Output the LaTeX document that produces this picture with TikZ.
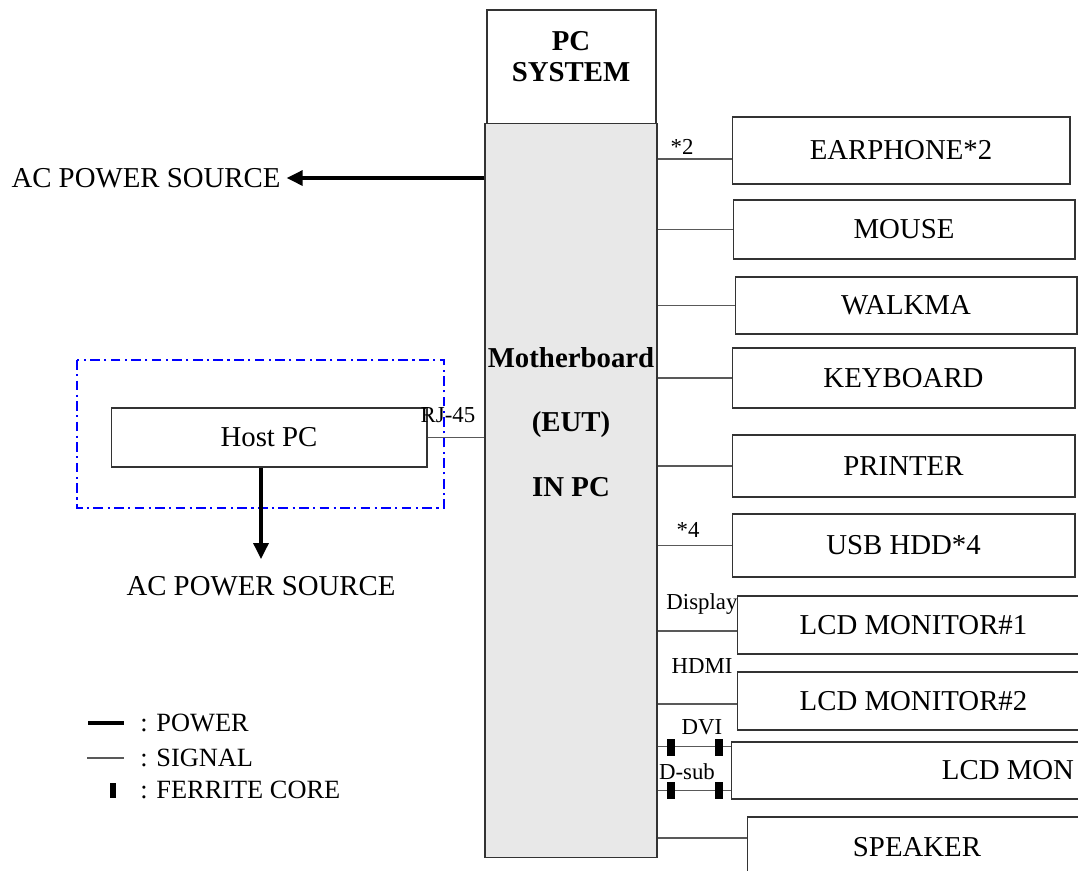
\documentclass[tikz,border=0pt]{standalone}
\usepackage{fontspec}
\setmainfont{Liberation Serif}
\usetikzlibrary{arrows.meta}

\begin{document}
\begin{tikzpicture}[x=0.02cm,y=-0.02cm,
    devbox/.style={draw=black!80,line width=0.6pt,inner sep=0pt,font=\fontsize{16.4}{19.7}\selectfont},
    sig/.style={draw=black!65,line width=0.6pt},
    power/.style={line width=1.9pt,-{Triangle[length=0.32cm,width=0.3cm]}},
    tag/.style={inner sep=0pt,font=\fontsize{13}{15.6}\selectfont},
    legtext/.style={anchor=west,inner sep=0pt,font=\fontsize{15}{18}\selectfont},
    ferrite/.style={fill=black,minimum width=0.16cm,minimum height=0.34cm,inner sep=0pt}]
    \useasboundingbox (0,0) rectangle (1078,870);
    \clip (0,0) rectangle (1078,870);
    % PC system and motherboard
    \node[devbox,minimum width=3.38cm,minimum height=2.3cm] (pcsys) at (571.5,67.5) {};
    \node[font=\bfseries\fontsize{16.4}{17.6}\selectfont,align=center,inner sep=0pt] (pctxt) at (571,57) {PC\\SYSTEM};
    \node[devbox,fill=black!9,minimum width=3.44cm,minimum height=14.7cm] (mb) at (571,490.5) {};
    \node[font=\bfseries\fontsize{16.4}{36.9}\selectfont,align=center,inner sep=0pt] (mbtxt) at (571,422) {Motherboard\\(EUT)\\IN PC};
    % peripherals
    \node[devbox,minimum width=6.76cm,minimum height=1.34cm] (earphone) at (901,150.5) {EARPHONE*2};
    \node[devbox,minimum width=6.84cm,minimum height=1.18cm] (mouse) at (904,229.5) {MOUSE};
    \node[devbox,minimum width=6.84cm,minimum height=1.14cm] (walkma) at (906,305.5) {WALKMA};
    \node[devbox,minimum width=6.86cm,minimum height=1.2cm] (keyboard) at (903.5,378) {KEYBOARD};
    \node[devbox,minimum width=6.86cm,minimum height=1.24cm] (printer) at (903.5,466) {PRINTER};
    \node[devbox,minimum width=6.86cm,minimum height=1.26cm] (usbhdd) at (903.5,545.5) {USB HDD*4};
    \node[devbox,minimum width=7.06cm,minimum height=1.16cm] (lcd1) at (913.5,625) {LCD MONITOR\#1};
    \node[devbox,minimum width=7.06cm,minimum height=1.16cm] (lcd2) at (913.5,701) {LCD MONITOR\#2};
    \node[devbox,minimum width=11.08cm,minimum height=1.14cm] (lcd3) at (1008,770.5) {LCD MON};
    \node[devbox,minimum width=6.8cm,minimum height=1.2cm] (speaker) at (917,847) {SPEAKER};
    % host side
    \draw[blue,line width=1pt,dash pattern=on 5.5pt off 2.5pt on 1.2pt off 2.5pt] (77,360) rectangle (444,508);
    \node[devbox,minimum width=6.32cm,minimum height=1.18cm] (host) at (269,437.5) {Host PC};
    \node[font=\fontsize{16.4}{19.7}\selectfont] (acleft) at (146,178) {AC POWER SOURCE};
    \node[font=\fontsize{16.4}{19.7}\selectfont] (acbot) at (261,586) {AC POWER SOURCE};
    \draw[power] (acleft.east -| mb.west) -- (acleft.east);
    \draw[power,shorten >=0.22cm] (host.south -| acbot.north) -- (acbot.north);
    % signal cables
    \draw[sig] (host.east) -- (host.east -| mb.west);
    \draw[sig] ([yshift=-0.17cm]earphone.west) -- ([yshift=-0.17cm]earphone.west -| mb.east);
    \draw[sig] (mouse.west) -- (mouse.west -| mb.east);
    \draw[sig] (walkma.west) -- (walkma.west -| mb.east);
    \draw[sig] (keyboard.west) -- (keyboard.west -| mb.east);
    \draw[sig] (printer.west) -- (printer.west -| mb.east);
    \draw[sig] (usbhdd.west) -- (usbhdd.west -| mb.east);
    \draw[sig] ([yshift=-0.12cm]lcd1.west) -- ([yshift=-0.12cm]lcd1.west -| mb.east);
    \draw[sig] ([yshift=-0.06cm]lcd2.west) -- ([yshift=-0.06cm]lcd2.west -| mb.east);
    \draw[sig] ([yshift=-0.1cm]lcd3.north west) -- ([yshift=-0.1cm]lcd3.north west -| mb.east);
    \draw[sig] ([yshift=0.18cm]lcd3.south west) -- ([yshift=0.18cm]lcd3.south west -| mb.east);
    \draw[sig] ([yshift=0.18cm]speaker.west) -- ([yshift=0.18cm]speaker.west -| mb.east);
    \node[ferrite] (dvicoreA) at (671,747) {};
    \node[ferrite] (dvicoreB) at (719,747) {};
    \node[ferrite] (dsubcoreA) at (671,790) {};
    \node[ferrite] (dsubcoreB) at (719,790) {};
    % cable labels
    \node[tag] (rjtag) at (448,415) {RJ-45};
    \node[tag] (eartag) at (682,147) {*2};
    \node[tag] (usbtag) at (688,530) {*4};
    \node[tag] (dptag) at (702,604) {Display};
    \node[tag] (hdmitag) at (702,666) {HDMI};
    \node[tag] (dvitag) at (702,727) {DVI};
    \node[tag] (dsubtag) at (687,772) {D-sub};
    % legend
    \draw[line width=1.9pt] (88,723) -- (124,723);
    \draw[sig] (87,758) -- (124,758);
    \node[ferrite,minimum width=0.13cm,minimum height=0.3cm] (legcore) at (113,790) {};
    \node[legtext] (legpower) at (140,723) {: POWER};
    \node[legtext] (legsignal) at (140,758) {: SIGNAL};
    \node[legtext] (legcoretxt) at (140,790) {: FERRITE CORE};
\end{tikzpicture}
\end{document}
